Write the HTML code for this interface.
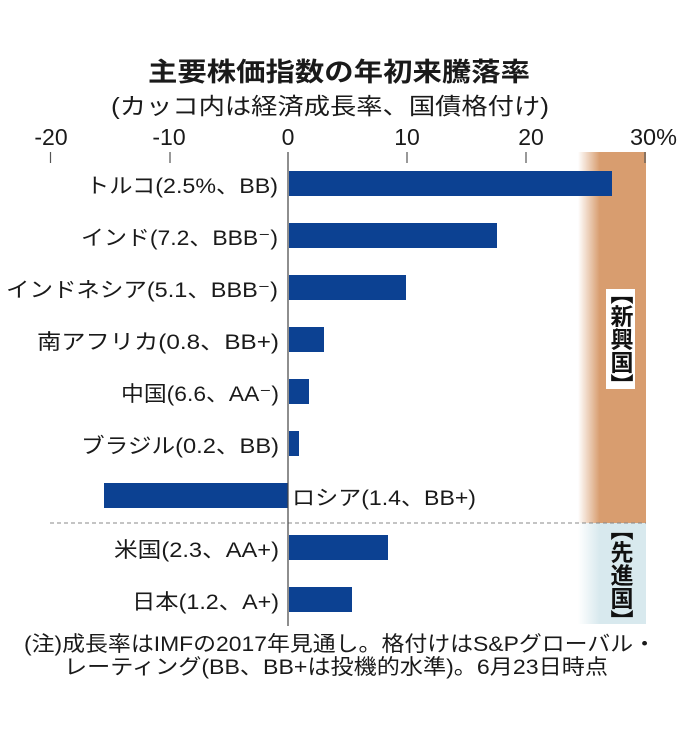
<!DOCTYPE html>
<html>
<head>
<meta charset="utf-8">
<style>
  html, body { margin:0; padding:0; background:#fff; }
  body { width:680px; height:738px; position:relative; overflow:hidden; }
  svg { position:absolute; left:0; top:0; }
  .vt {
    position:absolute;
    writing-mode: vertical-rl;
    font-family: "Noto Sans CJK JP", "Liberation Sans", sans-serif;
    font-weight: bold;
    font-size: 23px;
    line-height: 27px;
    color:#111;
    font-feature-settings: "vhal";
    text-align:center;
  }
</style>
</head>
<body>
<svg width="680" height="738" viewBox="0 0 680 738" xmlns="http://www.w3.org/2000/svg">
  <defs>
    <linearGradient id="gOr" x1="578" y1="0" x2="646" y2="0" gradientUnits="userSpaceOnUse">
      <stop offset="0" stop-color="#ffffff"/>
      <stop offset="0.32" stop-color="#d89d6f"/>
      <stop offset="1" stop-color="#d89d6f"/>
    </linearGradient>
    <linearGradient id="gBl" x1="578" y1="0" x2="646" y2="0" gradientUnits="userSpaceOnUse">
      <stop offset="0" stop-color="#ffffff"/>
      <stop offset="0.32" stop-color="#d8e9ee"/>
      <stop offset="1" stop-color="#d8e9ee"/>
    </linearGradient>
  </defs>
  <rect x="0" y="0" width="680" height="738" fill="#fff"/>

  <!-- bands -->
  <rect x="578" y="152" width="68" height="371" fill="url(#gOr)"/>
  <rect x="578" y="523" width="68" height="101" fill="url(#gBl)"/>

  <g font-family="'Liberation Sans','Noto Sans CJK JP',sans-serif" fill="#1a1a1a">
    <!-- title -->
    <text x="148" y="81" font-size="26" font-weight="bold" textLength="382" lengthAdjust="spacingAndGlyphs">主要株価指数の年初来騰落率</text>
    <text x="111" y="114" font-size="23" textLength="438" lengthAdjust="spacingAndGlyphs">(カッコ内は経済成長率、国債格付け)</text>

    <!-- axis labels -->
    <g font-size="23" text-anchor="middle">
      <text x="51" y="145">-20</text>
      <text x="169" y="145">-10</text>
      <text x="288" y="145">0</text>
      <text x="407" y="145">10</text>
      <text x="531" y="145">20</text>
    </g>
    <text x="630" y="145" font-size="23" textLength="47" lengthAdjust="spacingAndGlyphs">30%</text>
  </g>

  <!-- ticks -->
  <g stroke="#555" stroke-width="1.2">
    <line x1="50.5" y1="152" x2="50.5" y2="163"/>
    <line x1="170" y1="152" x2="170" y2="163"/>
    <line x1="407" y1="152" x2="407" y2="163"/>
    <line x1="526" y1="152" x2="526" y2="163"/>
    <line x1="645" y1="152" x2="645" y2="163"/>
  </g>

  <!-- dashed separator -->
  <line x1="50" y1="523" x2="646" y2="523" stroke="#888" stroke-width="1" stroke-dasharray="4 3"/>

  <!-- bars -->
  <g fill="#0c4192">
    <rect x="289" y="171" width="323" height="25"/>
    <rect x="289" y="223" width="208" height="25"/>
    <rect x="289" y="275" width="117" height="25"/>
    <rect x="289" y="327" width="35" height="25"/>
    <rect x="289" y="379" width="20" height="25"/>
    <rect x="289" y="431" width="10" height="25"/>
    <rect x="104" y="483" width="184" height="25"/>
    <rect x="289" y="535" width="99" height="25"/>
    <rect x="289" y="587" width="63" height="25"/>
  </g>

  <!-- zero line -->
  <line x1="288" y1="152" x2="288" y2="626" stroke="#444" stroke-width="1.2"/>

  <!-- category labels -->
  <g font-family="'Liberation Sans','Noto Sans CJK JP',sans-serif" font-size="21" fill="#1a1a1a">
    <text x="86" y="193" textLength="192" lengthAdjust="spacingAndGlyphs">トルコ(2.5%、BB)</text>
    <text x="81" y="245" textLength="197" lengthAdjust="spacingAndGlyphs">インド(7.2、BBB⁻)</text>
    <text x="6" y="297" textLength="272" lengthAdjust="spacingAndGlyphs">インドネシア(5.1、BBB⁻)</text>
    <text x="37" y="349" textLength="242" lengthAdjust="spacingAndGlyphs">南アフリカ(0.8、BB+)</text>
    <text x="121" y="401" textLength="158" lengthAdjust="spacingAndGlyphs">中国(6.6、AA⁻)</text>
    <text x="81" y="453" textLength="198" lengthAdjust="spacingAndGlyphs">ブラジル(0.2、BB)</text>
    <text x="292" y="505" textLength="184" lengthAdjust="spacingAndGlyphs">ロシア(1.4、BB+)</text>
    <text x="114" y="557" textLength="165" lengthAdjust="spacingAndGlyphs">米国(2.3、AA+)</text>
    <text x="132" y="609" textLength="147" lengthAdjust="spacingAndGlyphs">日本(1.2、A+)</text>
  </g>

  <!-- footnote -->
  <g font-family="'Liberation Sans','Noto Sans CJK JP',sans-serif" font-size="21" fill="#1a1a1a">
    <text x="24" y="651" textLength="632" lengthAdjust="spacingAndGlyphs">(注)成長率はIMFの2017年見通し。格付けはS&amp;Pグローバル・</text>
    <text x="64" y="674" textLength="544" lengthAdjust="spacingAndGlyphs">レーティング(BB、BB+は投機的水準)。6月23日時点</text>
  </g>
</svg>

<div class="vt" style="left:606px; top:289px; width:29px; height:100px; background:#fff;">【新興国】</div>
<div class="vt" style="left:606px; top:527px; width:29px; height:96px;">【先進国】</div>
</body>
</html>
